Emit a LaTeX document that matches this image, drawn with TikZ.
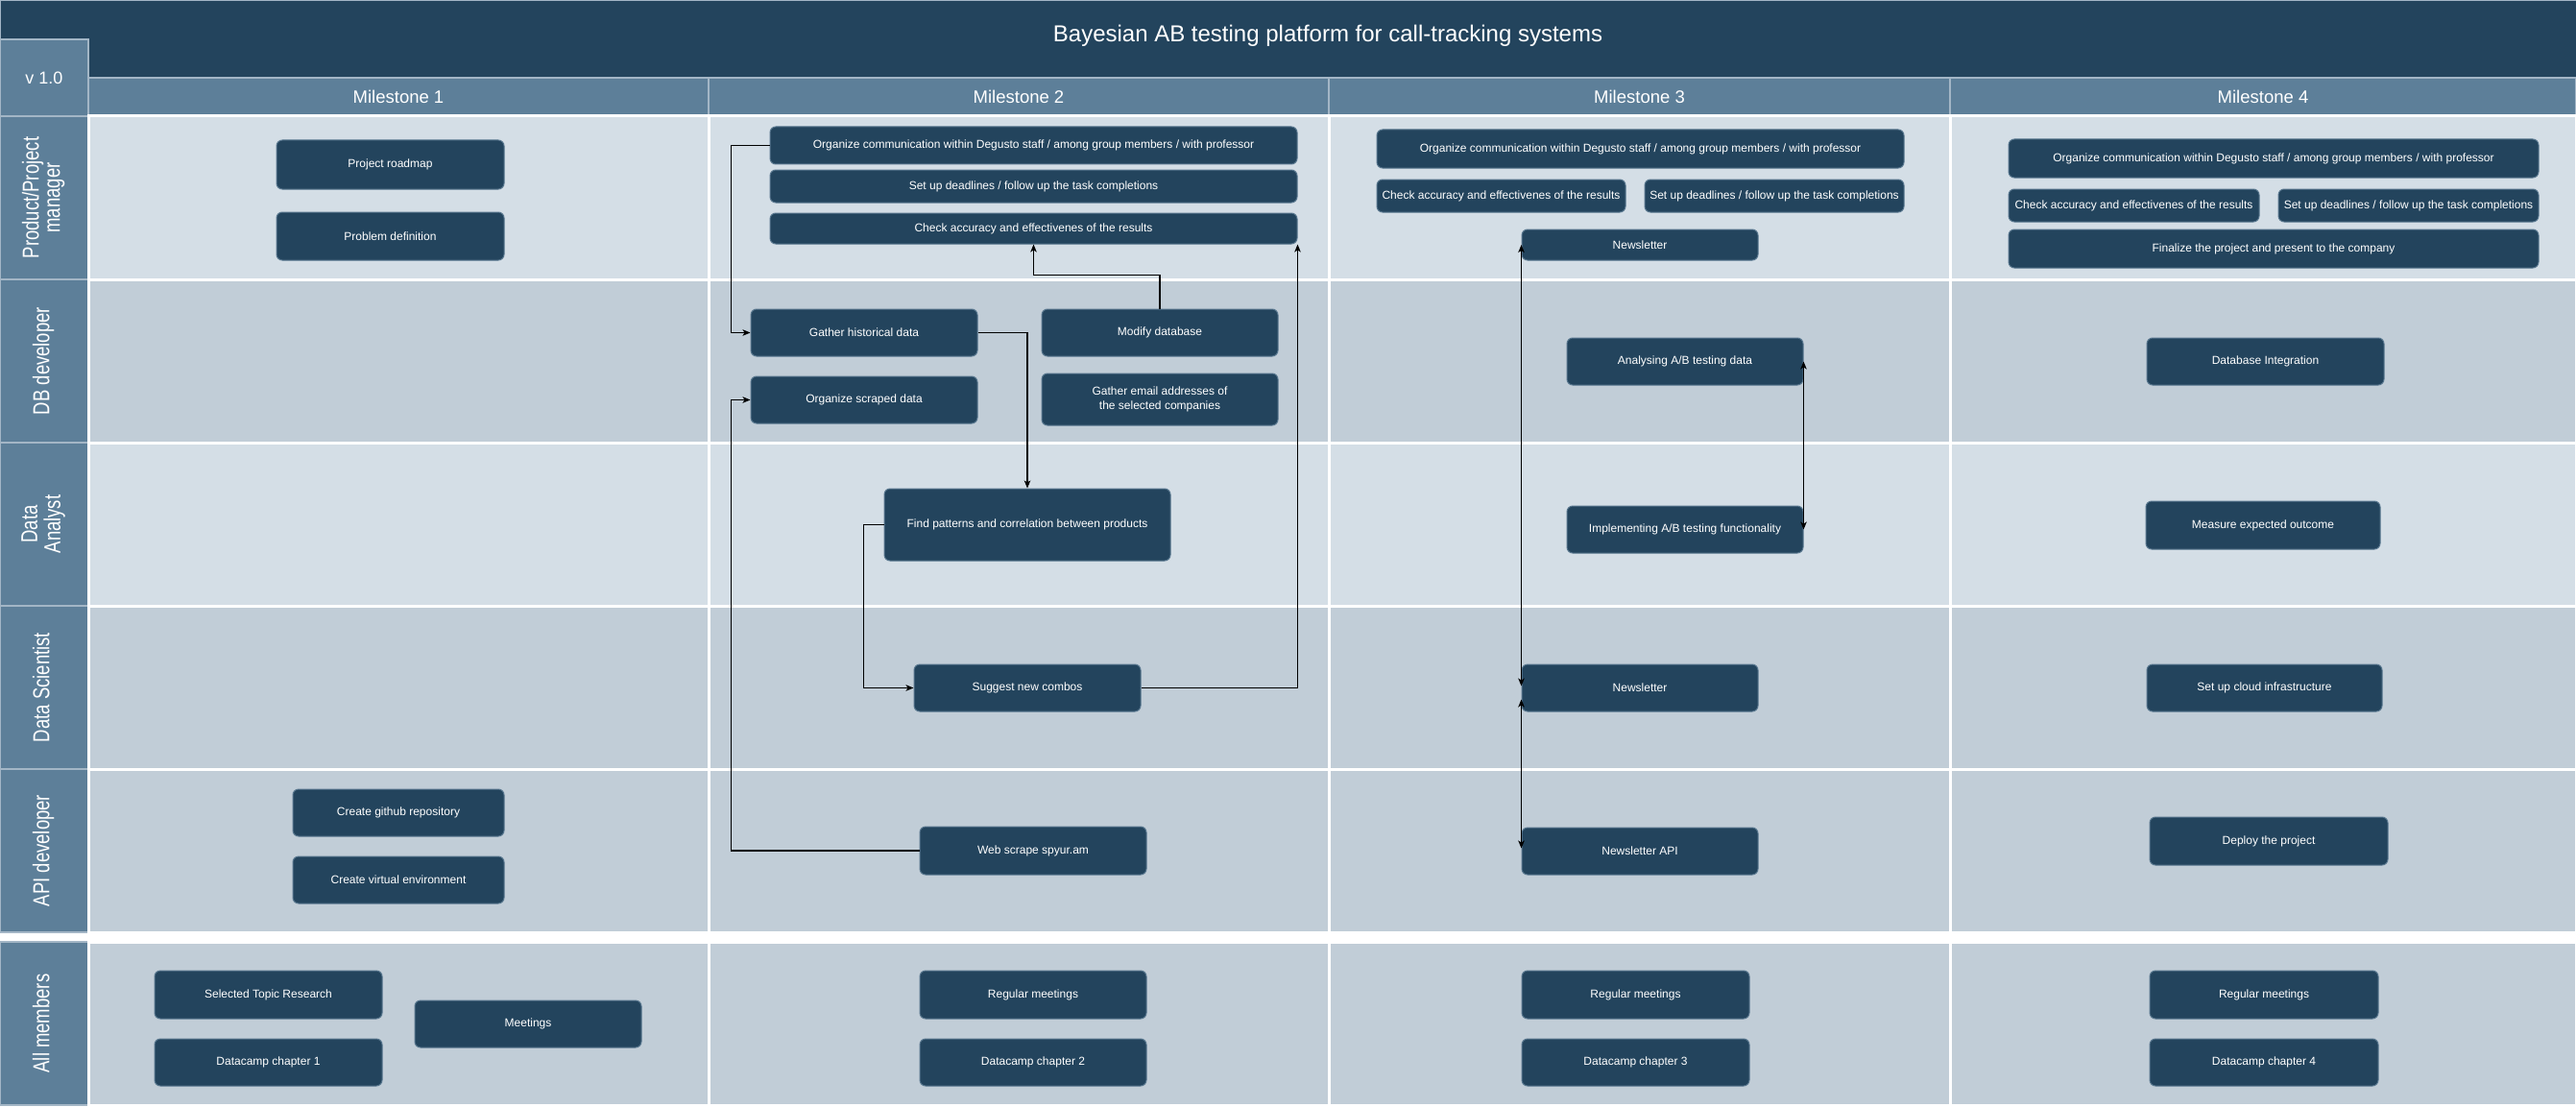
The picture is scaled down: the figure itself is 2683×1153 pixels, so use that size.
\documentclass[tikz,border=0pt]{standalone}
\usepackage{fontspec}
\setmainfont{Liberation Sans}
\usetikzlibrary{arrows.meta}
\definecolor{darkblue}{HTML}{23445D}
\definecolor{midblue}{HTML}{5D7F99}
\definecolor{rowlight}{HTML}{D4DEE6}
\definecolor{rowdark}{HTML}{C1CDD7}
\definecolor{boxedge}{HTML}{56758D}
\definecolor{hdredge}{HTML}{A3B6C6}
\tikzset{
  task/.style={fill=darkblue, draw=boxedge, line width=1pt, rounded corners=6pt,
    text=white, font=\fontsize{12}{15}\selectfont, align=center, inner sep=0pt},
  conn/.style={line width=1.1pt, -{Stealth[length=8pt,width=6.5pt,inset=2pt]}},
  biconn/.style={line width=1.1pt, {Stealth[length=8pt,width=6.5pt,inset=2pt]}-{Stealth[length=8pt,width=6.5pt,inset=2pt]}},
  lanelabel/.style={rotate=90, text=white, inner sep=0pt},
  mslabel/.style={text=white, font=\fontsize{18.5}{20}\selectfont},
}
\newcommand\tbox[6]{\node[task, minimum width={#4-#2}, minimum height={#5-#3}] (#1) at ({(#2+#4)/2},{(#3+#5)/2}) {#6};}
\newcommand\lanetext[1]{\scalebox{1}[1.3]{\fontsize{18.5}{17}\selectfont\begin{tabular}{@{}c@{}}#1\end{tabular}}}
\begin{document}
\begin{tikzpicture}[x=1pt,y=-1pt]
\useasboundingbox (0,0) rectangle (2683,1153);
\fill[white] (0,0) rectangle (2683,1153);
% title bar
\draw[fill=darkblue, draw=hdredge, line width=1pt] (0,1) rectangle (2683,81);
\node[text=white, font=\fontsize{24}{27}\selectfont] (title) at (1383,37) {Bayesian AB testing platform for call-tracking systems};
% version box
\draw[fill=midblue, draw=hdredge, line width=1.5pt] (0,41) rectangle (92,121);
\node[text=white, font=\fontsize{18}{20}\selectfont] (ver) at (46,81) {v 1.0};
% milestone header
\foreach \xa/\xb in {92/738,738/1384,1384/2031,2031/2683}{
  \draw[fill=midblue, draw=hdredge, line width=1.5pt] (\xa,81) rectangle (\xb,121);
}
\node[mslabel] (m1) at (415,101) {Milestone 1};
\node[mslabel] (m2) at (1061,101) {Milestone 2};
\node[mslabel] (m3) at (1707.5,101) {Milestone 3};
\node[mslabel] (m4) at (2357,101) {Milestone 4};
% lanes
\foreach \ya/\yb/\c in {121/291/rowlight,291/461/rowdark,461/631/rowlight,631/801/rowdark,801/971/rowdark,981/1151/rowdark}{
  \draw[fill=midblue, draw=hdredge, line width=1.5pt] (0,\ya) rectangle (92,\yb);
  \foreach \xa/\xb in {92/738,738/1384,1384/2031,2031/2683}{
    \draw[fill=\c, draw=white, line width=3pt] (\xa,\ya) rectangle (\xb,\yb);
  }
}
\node[lanelabel] (lpm) at (46,206) {\lanetext{Product/Project\\manager}};
\node[lanelabel] (ldb) at (46,376) {\lanetext{DB developer}};
\node[lanelabel] (lda) at (46,546) {\lanetext{Data\\Analyst}};
\node[lanelabel] (lds) at (46,716) {\lanetext{Data Scientist}};
\node[lanelabel] (lapi) at (46,886) {\lanetext{API developer}};
\node[lanelabel] (lall) at (46,1066) {\lanetext{All members}};
% Milestone 1
\tbox{pr}{288}{146}{525}{197}{Project roadmap}
\tbox{pd}{288}{221}{525}{271}{Problem definition}
\tbox{gh}{305}{822}{525}{871}{Create github repository}
\tbox{ve}{305}{892}{525}{941}{Create virtual environment}
\tbox{str}{161}{1011}{398}{1061}{Selected Topic Research}
\tbox{dca}{161}{1082}{398}{1131}{Datacamp chapter 1}
\tbox{mt}{432}{1042}{668}{1091}{Meetings}
% Milestone 2
\tbox{orgb}{802}{132}{1351}{171}{Organize communication within Degusto staff / among group members / with professor}
\tbox{dlb}{802}{177}{1351}{211}{Set up deadlines / follow up the task completions}
\tbox{cab}{802}{222}{1351}{254}{Check accuracy and effectivenes of the results}
\tbox{ghd}{782}{322}{1018}{371}{Gather historical data}
\tbox{md}{1085}{322}{1331}{371}{Modify database}
\tbox{osd}{782}{392}{1018}{441}{Organize scraped data}
\tbox{gea}{1085}{389}{1331}{443}{Gather email addresses of\\the selected companies}
\tbox{fp}{921}{509}{1219}{584}{Find patterns and correlation between products}
\tbox{snc}{952}{692}{1188}{741}{Suggest new combos}
\tbox{ws}{958}{861}{1194}{911}{Web scrape spyur.am}
\tbox{rmb}{958}{1011}{1194}{1061}{Regular meetings}
\tbox{dcb}{958}{1082}{1194}{1131}{Datacamp chapter 2}
% Milestone 3
\tbox{orgc}{1434}{135}{1983}{175}{Organize communication within Degusto staff / among group members / with professor}
\tbox{cac}{1434}{187}{1693}{221}{Check accuracy and effectivenes of the results}
\tbox{dlc}{1713}{187}{1983}{221}{Set up deadlines / follow up the task completions}
\tbox{nla}{1585}{239}{1831}{271}{Newsletter}
\tbox{aba}{1632}{352}{1878}{401}{Analysing A/B testing data}
\tbox{abb}{1632}{527}{1878}{576}{Implementing A/B testing functionality}
\tbox{nlb}{1585}{692}{1831}{741}{Newsletter}
\tbox{nlapi}{1585}{862}{1831}{911}{Newsletter API}
\tbox{rmc}{1585}{1011}{1822}{1061}{Regular meetings}
\tbox{dcc}{1585}{1082}{1822}{1131}{Datacamp chapter 3}
% Milestone 4
\tbox{orgd}{2092}{145}{2644}{185}{Organize communication within Degusto staff / among group members / with professor}
\tbox{cad}{2092}{197}{2353}{231}{Check accuracy and effectivenes of the results}
\tbox{dld}{2373}{197}{2644}{231}{Set up deadlines / follow up the task completions}
\tbox{fin}{2092}{239}{2644}{279}{Finalize the project and present to the company}
\tbox{dbi}{2236}{352}{2483}{401}{Database Integration}
\tbox{meo}{2235}{522}{2479}{572}{Measure expected outcome}
\tbox{sci}{2236}{692}{2481}{741}{Set up cloud infrastructure}
\tbox{dep}{2239}{851}{2487}{901}{Deploy the project}
\tbox{rmd}{2239}{1011}{2477}{1061}{Regular meetings}
\tbox{dcd}{2239}{1082}{2477}{1131}{Datacamp chapter 4}
% connectors
\draw[conn] (orgb.west) -- ++(-40,0) |- (ghd.west);
\draw[conn] (ghd.east) -| (fp.north);
\draw[conn] (md.north) -- ++(0,-35) -| (cab.south);
\draw[conn] (fp.west) -- ++(-21,0) |- (snc.west);
\draw[conn] (snc.east) -| (cab.south east);
\draw[conn] (ws.west) -- ++(-196,0) |- (osd.west);
\draw[biconn] (nla.west) -- ([yshift=2pt]nlb.west);
\draw[biconn] ([yshift=-12pt]nlb.west) -- ([yshift=3pt]nlapi.west);
\draw[biconn] (aba.east) -- (abb.east);
\end{tikzpicture}
\end{document}
